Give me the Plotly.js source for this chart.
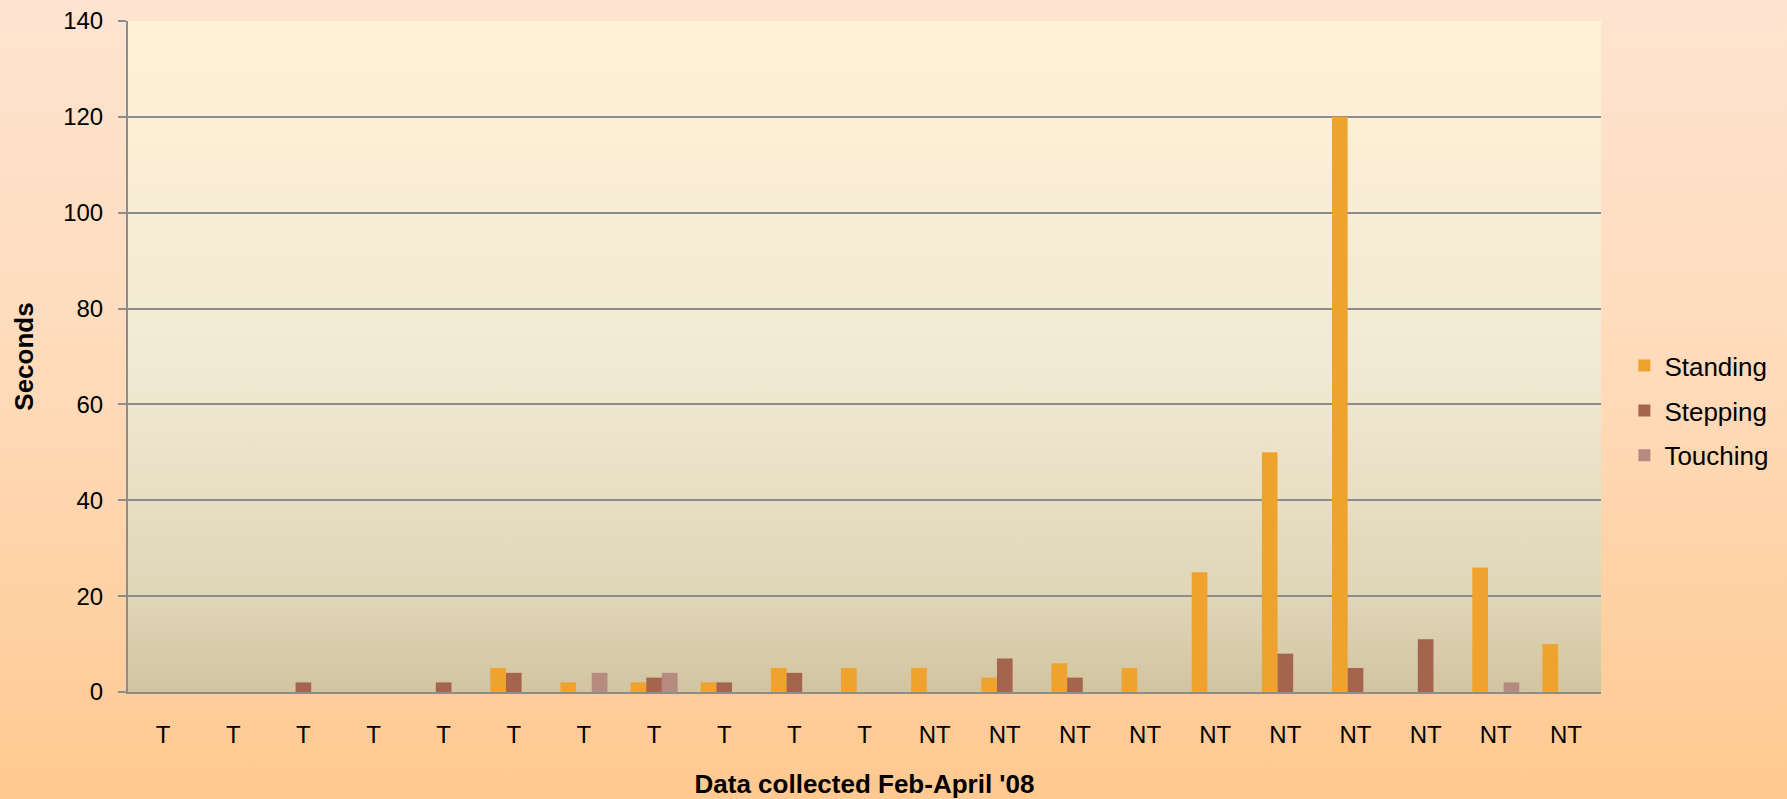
<!DOCTYPE html>
<html>
<head>
<meta charset="utf-8">
<script src="https://cdn.plot.ly/plotly-3.0.1.min.js"></script>
<style>
  html, body { margin:0; padding:0; width:1787px; height:799px; overflow:hidden; }
  body { background: linear-gradient(to bottom, #FEE4D1 0%, #FFDAB8 50%, #FFC990 100%); }
  #chart { width:1787px; height:799px; }
</style>
</head>
<body>
<div id="chart"></div>
<script>
const categories = ["T","T","T","T","T","T","T","T","T","T","T",
                    "NT","NT","NT","NT","NT","NT","NT","NT","NT","NT"];
const standing = [0,0,0,0,0,5,2,2,2,5,5, 5,3,6,5,25,50,120,0,26,10];
const stepping = [0,0,2,0,2,4,0,3,2,4,0, 0,7,3,0,0,8,5,11,0,0];
const touching = [0,0,0,0,0,0,4,4,0,0,0, 0,0,0,0,0,0,0,0,2,0];
const seriesNames = ["Standing","Stepping","Touching"];
const seriesColors = ["#F0A22E","#A5644E","#B58B80"];

const idx = categories.map((c,i)=>i);
const values = [standing, stepping, touching];
const traces = values.map((v,k)=>({
  type:'bar', x: idx, y: v, name: seriesNames[k],
  legendgroup: seriesNames[k],
  marker:{color: seriesColors[k], line:{width:0}},
  hoverinfo:'y'
}));

const svg = '<svg xmlns="http://www.w3.org/2000/svg" width="100" height="100" preserveAspectRatio="none" viewBox="0 0 100 100">' +
  '<defs><linearGradient id="g" x1="0" y1="0" x2="0" y2="1">' +
  '<stop offset="0" stop-color="#FFF1D6"/>' +
  '<stop offset="0.5" stop-color="#F2EAD3"/>' +
  '<stop offset="0.85" stop-color="#E0D7B9"/>' +
  '<stop offset="1" stop-color="#D2C4A0"/>' +
  '</linearGradient></defs><rect x="0" y="0" width="100" height="100" fill="url(#g)"/></svg>';
const bgImg = 'data:image/svg+xml;charset=utf-8,' + encodeURIComponent(svg);

const font = 'Liberation Sans, Arial, sans-serif';
const layout = {
  width:1787, height:799,
  margin:{l:128, r:186, t:21, b:107, pad:0, autoexpand:false},
  paper_bgcolor:'rgba(0,0,0,0)',
  plot_bgcolor:'rgba(0,0,0,0)',
  barmode:'group', bargap:0.33, bargroupgap:0,
  font:{family:font, size:24, color:'#000'},
  images:[{source:bgImg, xref:'paper', yref:'paper', x:0, y:1, sizex:1, sizey:1,
           xanchor:'left', yanchor:'top', sizing:'stretch', layer:'below'}],
  xaxis:{
    tickmode:'array', tickvals: idx, ticktext: categories,
    range:[-0.5, categories.length-0.5],
    showgrid:false, zeroline:false,
    showline:true, linecolor:'#8C8C8C', linewidth:2,
    ticks:'outside', ticklen:20, tickcolor:'rgba(0,0,0,0)',
    tickfont:{family:font, size:24, color:'#000'},
    title:{text:"<b>Data collected Feb-April '08</b>", font:{family:font, size:26, color:'#000'}, standoff:30}
  },
  yaxis:{
    range:[0,140], dtick:20, tick0:0,
    showgrid:true, gridcolor:'#8C8C8C', gridwidth:2,
    zeroline:false, showline:true, linecolor:'#8C8C8C', linewidth:2,
    ticks:'outside', ticklen:8, tickcolor:'#8C8C8C', tickwidth:2,
    ticklabelstandoff:10,
    tickfont:{family:font, size:24, color:'#000'},
    title:{text:'<b>Seconds</b>', font:{family:font, size:26, color:'#000'}, standoff:22}
  },
  legend:{
    xref:'container', yref:'container',
    x:0.909, y:0.486, xanchor:'left', yanchor:'middle',
    bgcolor:'rgba(0,0,0,0)', borderwidth:0,
    font:{family:font, size:26, color:'#000'},
    traceorder:'grouped', tracegroupgap:8, itemwidth:30
  },
  showlegend:true
};
Plotly.newPlot('chart', traces, layout, {displayModeBar:false, staticPlot:true});
</script>
</body>
</html>
